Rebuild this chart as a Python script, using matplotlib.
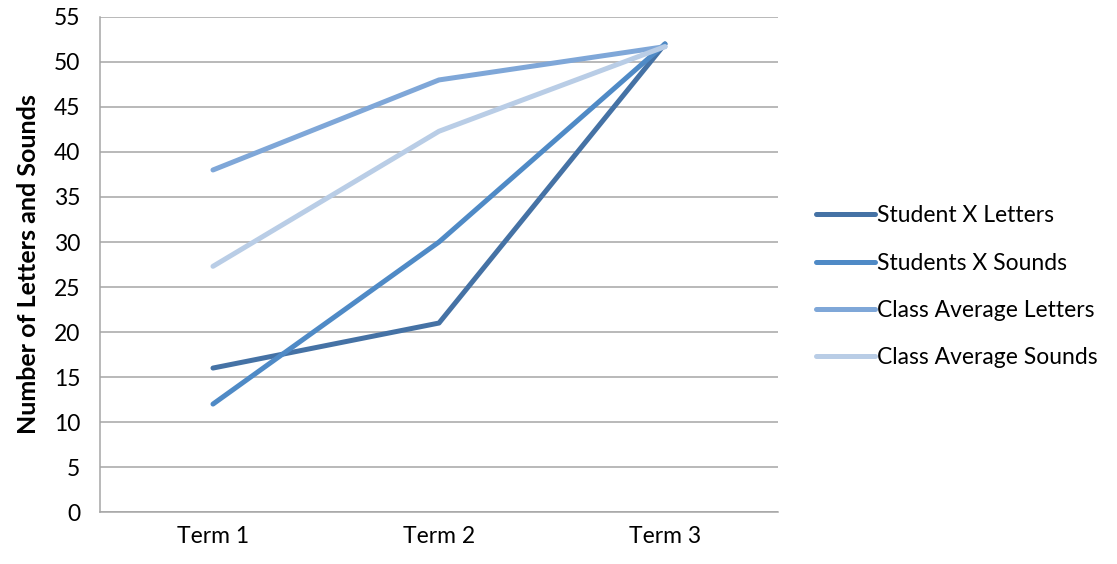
import matplotlib
matplotlib.use('Agg')
import matplotlib.pyplot as plt

plt.rcParams['font.family'] = ['Lato', 'DejaVu Sans']

# Letters and sounds known at each term
terms = ['Term 1', 'Term 2', 'Term 3']
student_letters = [16, 21, 52]
student_sounds = [12, 30, 52]
class_letters = [38, 48, 51.7]
class_sounds = [27.3, 42.3, 51.7]

series_names = ['Student X Letters', 'Students X Sounds',
                'Class Average Letters', 'Class Average Sounds']
colours = ['#4572a5', '#4f8ac6', '#7fa7d8', '#b9cde6']

fig = plt.figure(figsize=(11.17, 5.64), dpi=100)
ax = fig.add_axes([0.0895, 0.092, 0.607, 0.878])

x = range(len(terms))
for values, name, colour in zip(
        [student_letters, student_sounds, class_letters, class_sounds],
        series_names, colours):
    ax.plot(x, values, color=colour, linewidth=3.6, label=name,
            solid_capstyle='round', solid_joinstyle='round')

ax.set_xlim(-0.5, 2.5)
ax.set_ylim(0, 55)
ax.set_yticks(range(0, 56, 5))
ax.set_xticks(list(x))
ax.set_xticklabels(terms)
ax.tick_params(axis='both', labelsize=16.5, colors='#000000', length=0)
ax.tick_params(axis='y', pad=14)
ax.tick_params(axis='x', pad=10)
ax.yaxis.grid(True, color='#a6a6a6', linewidth=1.1)
ax.set_axisbelow(True)
for side in ('top', 'right'):
    ax.spines[side].set_visible(False)
for side in ('left', 'bottom'):
    ax.spines[side].set_color('#a6a6a6')
    ax.spines[side].set_linewidth(1.1)

ax.set_ylabel('Number of Letters and Sounds', fontsize=18,
              fontweight='bold', labelpad=10)

ax.legend(loc='center left', bbox_to_anchor=(1.025, 0.455), frameon=False,
          fontsize=16.5, handlelength=2.6, handletextpad=0.1,
          labelspacing=1.15)

fig.savefig('out.png', dpi=100)
